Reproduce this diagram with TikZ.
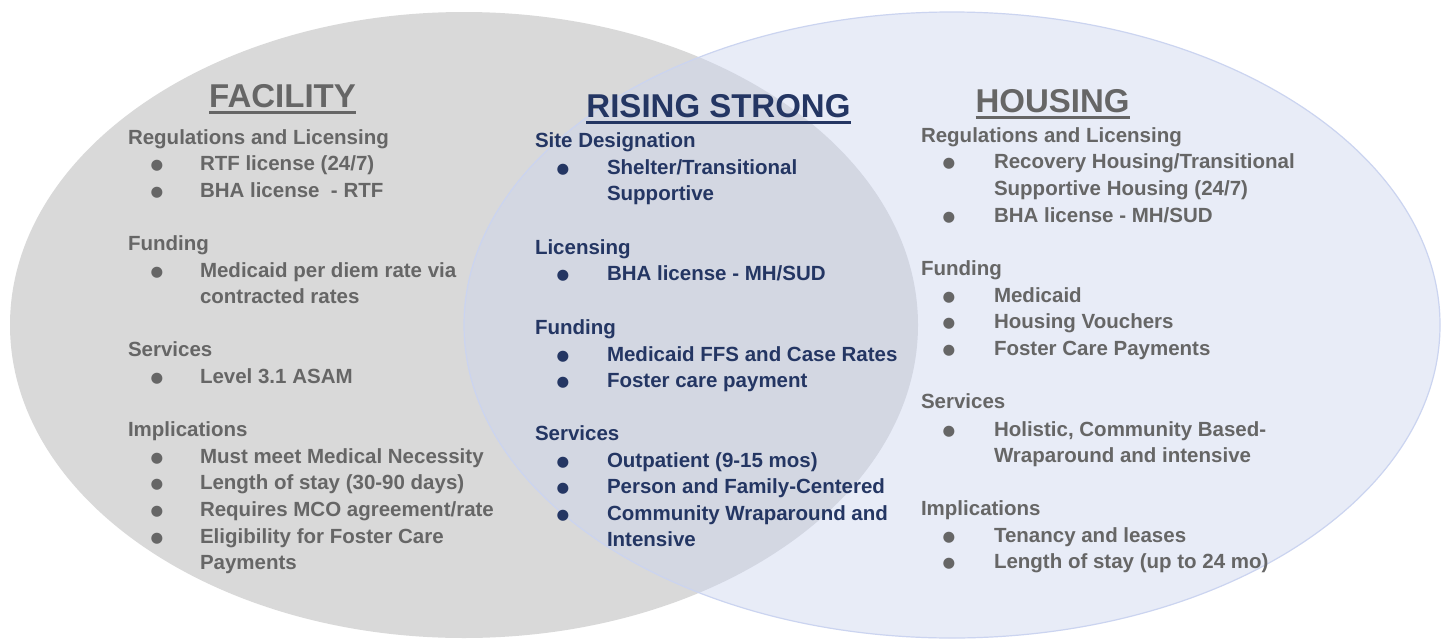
\documentclass[tikz,border=0pt]{standalone}
\usepackage{fontspec}
\setmainfont{Liberation Sans}
\newfontfamily\symfont{DejaVu Sans}
\usetikzlibrary{shapes.geometric}
\definecolor{tgray}{RGB}{102,102,102}
\definecolor{navy}{RGB}{36,54,99}
\definecolor{facfill}{RGB}{217,217,217}
\definecolor{houfill}{RGB}{204,213,239}
\definecolor{houline}{RGB}{203,212,240}
\tikzset{
  txt/.style={inner sep=0pt, outer sep=0pt, anchor=base west, font=\bfseries\fontsize{20.5}{26.5}\selectfont},
  gr/.style={txt, text=tgray},
  nv/.style={txt, text=navy},
  bul/.style={inner sep=0pt, anchor=base, yshift=1pt, font=\symfont\fontsize{14.5}{18}\selectfont},
  gbul/.style={bul, text=tgray},
  nbul/.style={bul, text=navy},
  ttl/.style={inner sep=0pt, outer sep=0pt, anchor=base, font=\bfseries\fontsize{33}{40}\selectfont},
  uline/.style={line width=2.5pt},
  blob/.style={ellipse, inner sep=0pt, outer sep=0pt, draw=none}
}
\begin{document}
\begin{tikzpicture}[x=1pt,y=-1pt]
\useasboundingbox[fill=white] (0,0) rectangle (1448,640);
% circles
\node[blob, fill=facfill, minimum width=908pt, minimum height=626pt] (fac) at (464,325) {};
\node[blob, fill=houfill, fill opacity=0.45, draw=houline, line width=1.2pt, minimum width=976pt, minimum height=626pt] (hou) at (952,325) {};

% ---------- FACILITY ----------
\node[ttl, text=tgray] (ft) at (282.5,107) {FACILITY};
\draw[uline, tgray] ([yshift=-5.5pt]ft.base west) -- ([yshift=-5.5pt]ft.base east);
\node[gr] (f1) at (128,144) {Regulations and Licensing};
\node[gbul] (f2b) at (157,170) {●}; \node[gr] (f2) at (200,170) {RTF license (24/7)};
\node[gbul] (f3b) at (157,197) {●}; \node[gr] (f3) at (200,197) {BHA license\ \ - RTF};
\node[gr] (f4) at (128,250) {Funding};
\node[gbul] (f5b) at (157,277) {●}; \node[gr] (f5) at (200,277) {Medicaid per diem rate via};
\node[gr] (f5c) at (200,303) {contracted rates};
\node[gr] (f6) at (128,356) {Services};
\node[gbul] (f7b) at (157,383) {●}; \node[gr] (f7) at (200,383) {Level 3.1 ASAM};
\node[gr] (f8) at (128,436) {Implications};
\node[gbul] (f9b) at (157,463) {●}; \node[gr] (f9) at (200,463) {Must meet Medical Necessity};
\node[gbul] (f10b) at (157,489) {●}; \node[gr] (f10) at (200,489) {Length of stay (30-90 days)};
\node[gbul] (f11b) at (157,516) {●}; \node[gr] (f11) at (200,516) {Requires MCO agreement/rate};
\node[gbul] (f12b) at (157,543) {●}; \node[gr] (f12) at (200,543) {Eligibility for Foster Care};
\node[gr] (f12c) at (200,569) {Payments};

% ---------- RISING STRONG ----------
\node[ttl, text=navy] (rt) at (718.5,117) {RISING STRONG};
\draw[uline, navy] ([yshift=-5.5pt]rt.base west) -- ([yshift=-5.5pt]rt.base east);
\node[nv] (r1) at (535,147) {Site Designation};
\node[nbul] (r2b) at (563,174) {●}; \node[nv] (r2) at (607,174) {Shelter/Transitional};
\node[nv] (r2c) at (607,200) {Supportive};
\node[nv] (r3) at (535,254) {Licensing};
\node[nbul] (r4b) at (563,280) {●}; \node[nv] (r4) at (607,280) {BHA license - MH/SUD};
\node[nv] (r5) at (535,334) {Funding};
\node[nbul] (r6b) at (563,361) {●}; \node[nv] (r6) at (607,361) {Medicaid FFS and Case Rates};
\node[nbul] (r7b) at (563,387) {●}; \node[nv] (r7) at (607,387) {Foster care payment};
\node[nv] (r8) at (535,440) {Services};
\node[nbul] (r9b) at (563,467) {●}; \node[nv] (r9) at (607,467) {Outpatient (9-15 mos)};
\node[nbul] (r10b) at (563,493) {●}; \node[nv] (r10) at (607,493) {Person and Family-Centered};
\node[nbul] (r11b) at (563,520) {●}; \node[nv] (r11) at (607,520) {Community Wraparound and};
\node[nv] (r11c) at (607,546) {Intensive};

% ---------- HOUSING ----------
\node[ttl, text=tgray] (ht) at (1052.5,112) {HOUSING};
\draw[uline, tgray] ([yshift=-5.5pt]ht.base west) -- ([yshift=-5.5pt]ht.base east);
\node[gr] (h1) at (921,142) {Regulations and Licensing};
\node[gbul] (h2b) at (949,168) {●}; \node[gr] (h2) at (994,168) {Recovery Housing/Transitional};
\node[gr] (h2c) at (994,195) {Supportive Housing (24/7)};
\node[gbul] (h3b) at (949,222) {●}; \node[gr] (h3) at (994,222) {BHA license - MH/SUD};
\node[gr] (h4) at (921,275) {Funding};
\node[gbul] (h5b) at (949,302) {●}; \node[gr] (h5) at (994,302) {Medicaid};
\node[gbul] (h6b) at (949,328) {●}; \node[gr] (h6) at (994,328) {Housing Vouchers};
\node[gbul] (h7b) at (949,355) {●}; \node[gr] (h7) at (994,355) {Foster Care Payments};
\node[gr] (h8) at (921,408) {Services};
\node[gbul] (h9b) at (949,436) {●}; \node[gr] (h9) at (994,436) {Holistic, Community Based-};
\node[gr] (h9c) at (994,462) {Wraparound and intensive};
\node[gr] (h10) at (921,515) {Implications};
\node[gbul] (h11b) at (949,542) {●}; \node[gr] (h11) at (994,542) {Tenancy and leases};
\node[gbul] (h12b) at (949,568) {●}; \node[gr] (h12) at (994,568) {Length of stay (up to 24 mo)};
\end{tikzpicture}
\end{document}
